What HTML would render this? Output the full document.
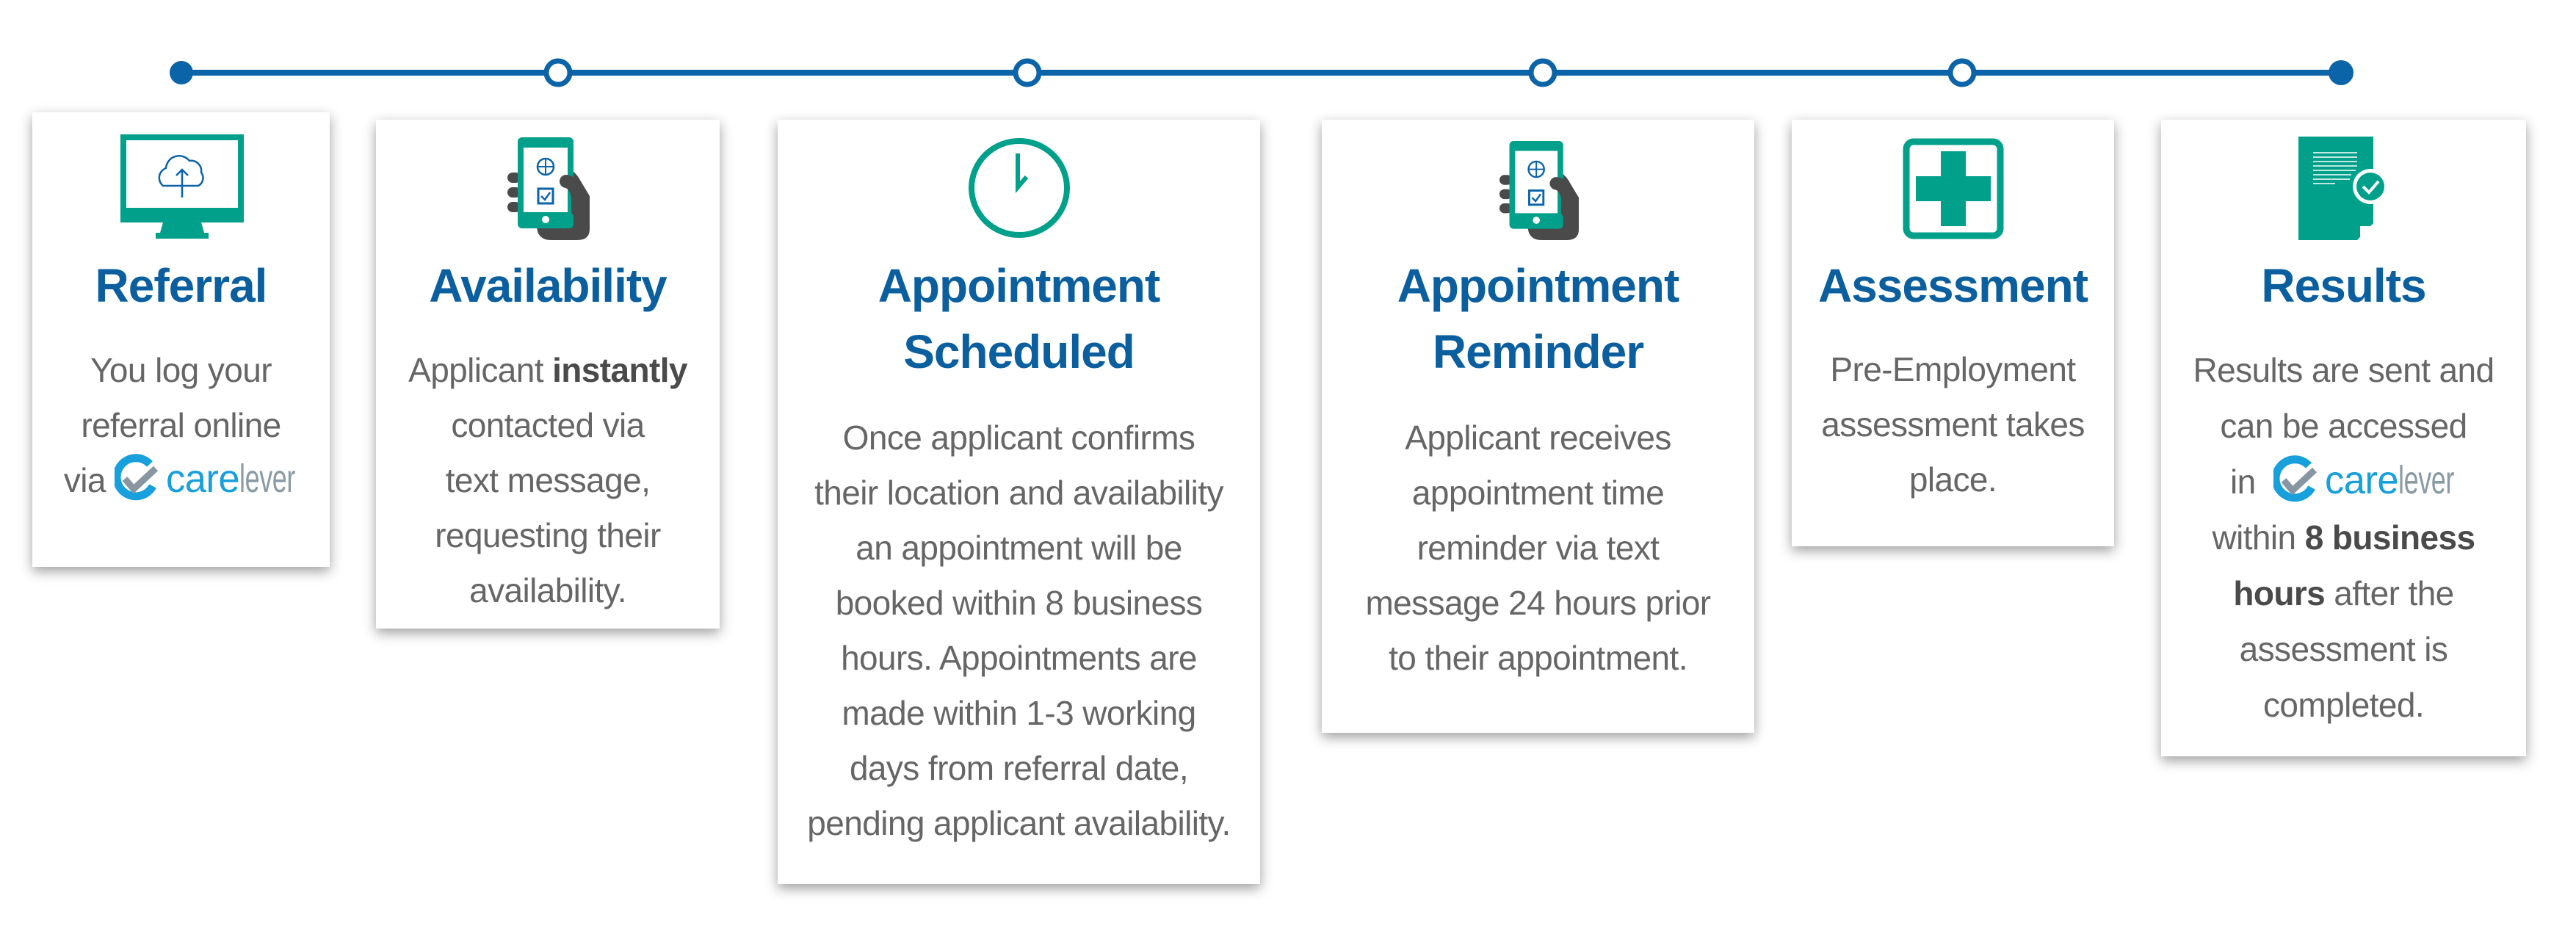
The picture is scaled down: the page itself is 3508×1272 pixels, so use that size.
<!DOCTYPE html>
<html><head><meta charset="utf-8">
<style>
html,body{margin:0;padding:0;background:#fff;}
body{width:3508px;height:1272px;position:relative;overflow:hidden;font-family:"Liberation Sans",sans-serif;}
.card{position:absolute;background:#fff;box-shadow:0 6px 16px rgba(0,0,0,.38);}
.t{position:absolute;left:0;right:0;text-align:center;color:#0b5f9e;font-weight:bold;font-size:64px;line-height:90px;letter-spacing:-1px;white-space:nowrap;}
.b{position:absolute;left:0;right:0;text-align:center;color:#666;font-size:46px;line-height:75px;letter-spacing:-0.6px;white-space:nowrap;}
.b strong{color:#4a4a4a;}
.ic{position:absolute;}
.logo{display:inline-block;vertical-align:-14px;}
</style></head><body>

<!-- timeline -->
<svg style="position:absolute;left:0;top:0" width="3508" height="200">
<line x1="247" y1="99" x2="3190" y2="99" stroke="#0b63a8" stroke-width="8"/>
<circle cx="247" cy="99" r="16" fill="#0b63a8"/>
<circle cx="760" cy="99" r="16" fill="#fff" stroke="#0b63a8" stroke-width="7"/>
<circle cx="1399" cy="99" r="16" fill="#fff" stroke="#0b63a8" stroke-width="7"/>
<circle cx="2101" cy="99" r="16" fill="#fff" stroke="#0b63a8" stroke-width="7"/>
<circle cx="2672" cy="99" r="16" fill="#fff" stroke="#0b63a8" stroke-width="7"/>
<circle cx="3188" cy="99" r="17" fill="#0b63a8"/>
</svg>

<!-- Referral -->
<div class="card" style="left:44px;top:153px;width:405px;height:619px;">
<div class="t" style="top:191px;">Referral</div>
<div class="b" style="top:314px;">You log your<br>referral online<br>via <svg class="logo" width="250" height="66" viewBox="0 0 250 66"><g transform="translate(0,4)"><path d="M48 10 A26 26 0 1 0 52 40" fill="none" stroke="#18a0dc" stroke-width="11"/><path d="M14 30 L26 44 L56 16" fill="none" stroke="#8796a0" stroke-width="9"/></g><text x="70" y="52" font-family="Liberation Sans" font-size="54" fill="#18a0dc" textLength="100" lengthAdjust="spacingAndGlyphs">care</text><text x="170" y="52" font-family="Liberation Sans" font-size="54" fill="#8a9ba5" textLength="76" lengthAdjust="spacingAndGlyphs">lever</text></svg></div>
</div>
<svg class="ic" style="left:164px;top:183px" width="168" height="144" viewBox="0 0 168 144">
<rect x="4" y="4" width="160" height="108" fill="none" stroke="#00a08a" stroke-width="8"/>
<rect x="0" y="100" width="168" height="20" fill="#00a08a"/>
<polygon points="58,120 110,120 114,134 54,134" fill="#00a08a"/>
<rect x="48" y="134" width="72" height="8" fill="#00a08a"/>
<path d="M58 70 A14 14 0 0 1 62 46 A18 18 0 0 1 94 36 A14 14 0 0 1 110 52 A12 12 0 0 1 106 70 Z" fill="none" stroke="#0b63a8" stroke-width="2.5"/>
<line x1="84" y1="48" x2="84" y2="86" stroke="#0b63a8" stroke-width="2.5"/>
<polyline points="76,56 84,48 92,56" fill="none" stroke="#0b63a8" stroke-width="2.5"/>
</svg>

<!-- Availability -->
<div class="card" style="left:512px;top:163px;width:468px;height:693px;">
<div class="t" style="top:181px;">Availability</div>
<div class="b" style="top:304px;">Applicant <strong>instantly</strong><br>contacted via<br>text message,<br>requesting their<br>availability.</div>
</div>
<svg class="ic" style="left:691px;top:187px" width="112" height="140" viewBox="0 0 112 140">
<path d="M70 40 Q90 40 100 60 L112 80 L112 125 Q112 140 95 140 L60 140 Q40 140 40 120 Z" fill="#4a4a4a"/>
<rect x="0" y="48" width="18" height="14" rx="7" fill="#4a4a4a"/>
<rect x="0" y="68" width="18" height="14" rx="7" fill="#4a4a4a"/>
<rect x="0" y="88" width="18" height="14" rx="7" fill="#4a4a4a"/>
<rect x="14" y="0" width="76" height="124" rx="6" fill="#00a08a"/>
<rect x="22" y="14" width="60" height="88" fill="#fff"/>
<circle cx="52" cy="112" r="5" fill="#fff"/>
<circle cx="52" cy="40" r="11" fill="none" stroke="#0b63a8" stroke-width="2.5"/>
<line x1="41" y1="40" x2="63" y2="40" stroke="#0b63a8" stroke-width="2"/>
<line x1="52" y1="29" x2="52" y2="51" stroke="#0b63a8" stroke-width="2"/>
<rect x="42" y="70" width="20" height="20" fill="none" stroke="#0b63a8" stroke-width="3"/>
<polyline points="46,80 51,85 58,75" fill="none" stroke="#0b63a8" stroke-width="2.5"/>
<path d="M80 60 Q92 62 96 80 L96 100" fill="none" stroke="#4a4a4a" stroke-width="18" stroke-linecap="round"/>
</svg>

<!-- Appointment Scheduled -->
<div class="card" style="left:1059px;top:163px;width:657px;height:1041px;">
<div class="t" style="top:181px;">Appointment<br>Scheduled</div>
<div class="b" style="top:396px;">Once applicant confirms<br>their location and availability<br>an appointment will be<br>booked within 8 business<br>hours. Appointments are<br>made within 1-3 working<br>days from referral date,<br>pending applicant availability.</div>
</div>
<svg class="ic" style="left:1318px;top:187px" width="140" height="138" viewBox="0 0 140 138">
<ellipse cx="70" cy="69" rx="65" ry="64" fill="none" stroke="#00a08a" stroke-width="8"/>
<polyline points="68,22 68,68 80,54" fill="none" stroke="#00a08a" stroke-width="6"/>
</svg>

<!-- Appointment Reminder -->
<div class="card" style="left:1800px;top:163px;width:589px;height:835px;">
<div class="t" style="top:181px;">Appointment<br>Reminder</div>
<div class="b" style="top:396px;">Applicant receives<br>appointment time<br>reminder via text<br>message 24 hours prior<br>to their appointment.</div>
</div>
<svg class="ic" style="left:2041px;top:192px" width="110" height="135" viewBox="0 0 112 140">
<path d="M70 40 Q90 40 100 60 L112 80 L112 125 Q112 140 95 140 L60 140 Q40 140 40 120 Z" fill="#4a4a4a"/>
<rect x="0" y="48" width="18" height="14" rx="7" fill="#4a4a4a"/>
<rect x="0" y="68" width="18" height="14" rx="7" fill="#4a4a4a"/>
<rect x="0" y="88" width="18" height="14" rx="7" fill="#4a4a4a"/>
<rect x="14" y="0" width="76" height="124" rx="6" fill="#00a08a"/>
<rect x="22" y="14" width="60" height="88" fill="#fff"/>
<circle cx="52" cy="112" r="5" fill="#fff"/>
<circle cx="52" cy="40" r="11" fill="none" stroke="#0b63a8" stroke-width="2.5"/>
<line x1="41" y1="40" x2="63" y2="40" stroke="#0b63a8" stroke-width="2"/>
<line x1="52" y1="29" x2="52" y2="51" stroke="#0b63a8" stroke-width="2"/>
<rect x="42" y="70" width="20" height="20" fill="none" stroke="#0b63a8" stroke-width="3"/>
<polyline points="46,80 51,85 58,75" fill="none" stroke="#0b63a8" stroke-width="2.5"/>
<path d="M80 60 Q92 62 96 80 L96 100" fill="none" stroke="#4a4a4a" stroke-width="18" stroke-linecap="round"/>
</svg>

<!-- Assessment -->
<div class="card" style="left:2440px;top:163px;width:439px;height:581px;">
<div class="t" style="top:181px;">Assessment</div>
<div class="b" style="top:303px;">Pre-Employment<br>assessment takes<br>place.</div>
</div>
<svg class="ic" style="left:2591px;top:188px" width="138" height="138" viewBox="0 0 138 138">
<rect x="5" y="5" width="128" height="128" rx="10" fill="none" stroke="#00a08a" stroke-width="9"/>
<rect x="52" y="18" width="34" height="102" fill="#00a08a"/>
<rect x="18" y="52" width="102" height="34" fill="#00a08a"/>
</svg>

<!-- Results -->
<div class="card" style="left:2943px;top:163px;width:497px;height:867px;">
<div class="t" style="top:181px;">Results</div>
<div class="b" style="top:303px;line-height:76px;">Results are sent and<br>can be accessed<br>in &nbsp;<svg class="logo" width="250" height="66" viewBox="0 0 250 66"><g transform="translate(0,4)"><path d="M48 10 A26 26 0 1 0 52 40" fill="none" stroke="#18a0dc" stroke-width="11"/><path d="M14 30 L26 44 L56 16" fill="none" stroke="#8796a0" stroke-width="9"/></g><text x="70" y="52" font-family="Liberation Sans" font-size="54" fill="#18a0dc" textLength="100" lengthAdjust="spacingAndGlyphs">care</text><text x="170" y="52" font-family="Liberation Sans" font-size="54" fill="#8a9ba5" textLength="76" lengthAdjust="spacingAndGlyphs">lever</text></svg><br>within <strong>8 business</strong><br><strong>hours</strong> after the<br>assessment is<br>completed.</div>
</div>
<svg class="ic" style="left:3130px;top:186px" width="125" height="141" viewBox="0 0 125 141">
<polygon points="0,0 102,0 102,118 80,141 0,141" fill="#00a08a"/>
<polygon points="84,141 102,122 84,122" fill="#fff"/>
<g stroke="#fff" stroke-width="1.5">
<line x1="20" y1="22" x2="80" y2="22"/><line x1="20" y1="28" x2="80" y2="28"/><line x1="20" y1="34" x2="80" y2="34"/>
<line x1="20" y1="40" x2="80" y2="40"/><line x1="20" y1="46" x2="78" y2="46"/><line x1="20" y1="52" x2="72" y2="52"/>
<line x1="20" y1="58" x2="70" y2="58"/><line x1="20" y1="64" x2="50" y2="64"/>
</g>
<circle cx="98" cy="68" r="24" fill="#fff"/>
<circle cx="98" cy="68" r="19" fill="#00a08a"/>
<polyline points="88,68 96,76 109,61" fill="none" stroke="#fff" stroke-width="4"/>
</svg>

</body></html>
